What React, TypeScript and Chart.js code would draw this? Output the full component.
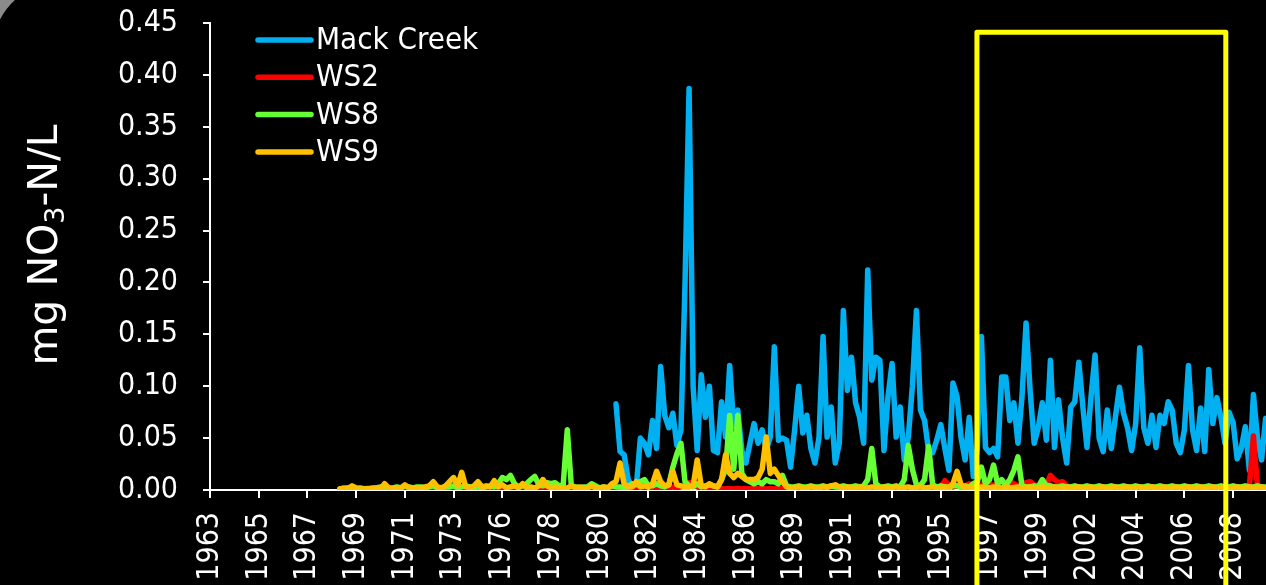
import React, { useEffect, useRef } from 'react';
import { Chart, registerables } from 'chart.js';

Chart.register(...registerables);

// ---------- data ----------
const TICK_LABELS = ['1963', '1965', '1967', '1969', '1971', '1973', '1976', '1978', '1980', '1982', '1984',
  '1986', '1989', '1991', '1993', '1995', '1997', '1999', '2002', '2004', '2006', '2008'];
const SAMPLES_PER_TICK = 12;
const X_MAX = 260.1;
const Y_MAX = 0.45;
const Y_STEP = 0.05;

const SERIES_NAMES = ['Mack Creek', 'WS2', 'WS8', 'WS9'];
const SERIES_COLORS = ['#00B0F0', '#FF0000', '#66FF33', '#FFC000'];

const Y_TITLE_MAIN = 'mg NO';
const Y_TITLE_SUB = '3';
const Y_TITLE_END = '-N/L';

const MACK_CREEK_START = 100;
const MACK_CREEK = [
  0.083, 0.037, 0.034, 0.01, 0.003, 0.003, 0.05, 0.045, 0.034, 0.067,
  0.04, 0.119, 0.072, 0.06, 0.074, 0.043, 0.058, 0.199, 0.387, 0.1,
  0.038, 0.111, 0.07, 0.1, 0.038, 0.036, 0.085, 0.051, 0.12, 0.061,
  0.077, 0.038, 0.026, 0.045, 0.064, 0.045, 0.058, 0.038, 0.051, 0.138,
  0.048, 0.05, 0.048, 0.022, 0.058, 0.1, 0.055, 0.072, 0.04, 0.026,
  0.051, 0.148, 0.051, 0.08, 0.026, 0.045, 0.173, 0.096, 0.128, 0.084,
  0.07, 0.045, 0.212, 0.106, 0.128, 0.125, 0.038, 0.09, 0.122, 0.051,
  0.08, 0.029, 0.051, 0.1, 0.173, 0.077, 0.067, 0.038, 0.036, 0.048,
  0.063, 0.04, 0.019, 0.103, 0.09, 0.05, 0.029, 0.07, 0.013, 0.04,
  0.148, 0.041, 0.036, 0.04, 0.032, 0.109, 0.109, 0.067, 0.084, 0.045,
  0.09, 0.161, 0.096, 0.045, 0.06, 0.084, 0.048, 0.125, 0.041, 0.087,
  0.05, 0.026, 0.08, 0.085, 0.123, 0.08, 0.041, 0.09, 0.13, 0.05,
  0.037, 0.077, 0.04, 0.07, 0.099, 0.074, 0.06, 0.038, 0.064, 0.137,
  0.06, 0.045, 0.072, 0.041, 0.072, 0.064, 0.085, 0.077, 0.045, 0.036,
  0.058, 0.12, 0.058, 0.038, 0.079, 0.037, 0.116, 0.064, 0.089, 0.07,
  0.045, 0.075, 0.065, 0.03, 0.04, 0.061, 0.019, 0.092, 0.05, 0.029,
  0.069, 0.07,
];

const WS_START = 32;
const WS2 = [
  0.001, 0.001, 0.0015, 0.001, 0.001, 0.001, 0.0015, 0.001, 0.001, 0.001,
  0.001, 0.0015, 0.001, 0.001, 0.001, 0.0015, 0.001, 0.001, 0.001, 0.0015,
  0.001, 0.001, 0.0015, 0.001, 0.001, 0.001, 0.0015, 0.001, 0.001, 0.001,
  0.001, 0.0015, 0.001, 0.001, 0.001, 0.0015, 0.001, 0.001, 0.001, 0.0015,
  0.001, 0.001, 0.0015, 0.001, 0.001, 0.001, 0.0015, 0.001, 0.001, 0.001,
  0.001, 0.0015, 0.001, 0.001, 0.001, 0.0015, 0.001, 0.001, 0.001, 0.0015,
  0.001, 0.0015, 0.002, 0.001, 0.0015, 0.002, 0.001, 0.0015, 0.002, 0.0015,
  0.0015, 0.002, 0.0015, 0.002, 0.0015, 0.002, 0.004, 0.002, 0.0015, 0.002,
  0.002, 0.002, 0.003, 0.002, 0.003, 0.004, 0.007, 0.006, 0.003, 0.002,
  0.0015, 0.001, 0.0015, 0.001, 0.0015, 0.001, 0.0015, 0.001, 0.0015, 0.001,
  0.0015, 0.001, 0.0015, 0.001, 0.0015, 0.001, 0.0015, 0.001, 0.0015, 0.001,
  0.0015, 0.001, 0.0015, 0.001, 0.0015, 0.001, 0.0015, 0.001, 0.0015, 0.001,
  0.0015, 0.001, 0.0015, 0.001, 0.0015, 0.001, 0.0015, 0.001, 0.0015, 0.001,
  0.0015, 0.001, 0.0015, 0.001, 0.0015, 0.001, 0.0015, 0.001, 0.0015, 0.001,
  0.001, 0.001, 0.002, 0.001, 0.002, 0.002, 0.002, 0.003, 0.003, 0.009,
  0.005, 0.003, 0.004, 0.003, 0.004, 0.006, 0.003, 0.004, 0.005, 0.008,
  0.006, 0.004, 0.006, 0.009, 0.007, 0.008, 0.006, 0.004, 0.005, 0.007,
  0.008, 0.005, 0.004, 0.003, 0.005, 0.014, 0.01, 0.007, 0.008, 0.004,
  0.003, 0.002, 0.003, 0.002, 0.003, 0.002, 0.002, 0.003, 0.002, 0.002,
  0.003, 0.002, 0.002, 0.003, 0.002, 0.002, 0.003, 0.002, 0.002, 0.003,
  0.002, 0.003, 0.002, 0.002, 0.003, 0.002, 0.002, 0.003, 0.002, 0.002,
  0.003, 0.002, 0.002, 0.003, 0.002, 0.002, 0.003, 0.002, 0.002, 0.003,
  0.002, 0.002, 0.003, 0.002, 0.003, 0.052, 0.003, 0.002, 0.002, 0.002,
];

const WS8 = [
  0.001, 0.001, 0.002, 0.001, 0.001, 0.002, 0.001, 0.001, 0.002, 0.002,
  0.003, 0.002, 0.002, 0.002, 0.003, 0.002, 0.004, 0.003, 0.002, 0.003,
  0.003, 0.002, 0.003, 0.004, 0.002, 0.002, 0.003, 0.003, 0.004, 0.002,
  0.003, 0.004, 0.003, 0.002, 0.003, 0.002, 0.003, 0.004, 0.003, 0.006,
  0.012, 0.01, 0.014, 0.006, 0.003, 0.004, 0.006, 0.01, 0.013, 0.005,
  0.004, 0.007, 0.006, 0.007, 0.004, 0.005, 0.058, 0.004, 0.003, 0.002,
  0.003, 0.003, 0.006, 0.004, 0.002, 0.003, 0.002, 0.004, 0.003, 0.003,
  0.002, 0.003, 0.006, 0.005, 0.008, 0.01, 0.004, 0.004, 0.006, 0.004,
  0.003, 0.005, 0.022, 0.035, 0.045, 0.008, 0.004, 0.003, 0.006, 0.003,
  0.004, 0.005, 0.004, 0.003, 0.01, 0.02, 0.072, 0.02, 0.072, 0.016,
  0.01, 0.008, 0.006, 0.008, 0.006, 0.01, 0.008, 0.008, 0.006, 0.014,
  0.004, 0.003, 0.003, 0.004, 0.003, 0.003, 0.004, 0.003, 0.003, 0.004,
  0.003, 0.004, 0.003, 0.003, 0.004, 0.003, 0.003, 0.004, 0.003, 0.004,
  0.01, 0.04, 0.006, 0.003, 0.003, 0.004, 0.003, 0.004, 0.003, 0.01,
  0.043, 0.02, 0.005, 0.004, 0.01, 0.042, 0.005, 0.003, 0.004, 0.003,
  0.003, 0.004, 0.004, 0.003, 0.004, 0.003, 0.006, 0.008, 0.022, 0.006,
  0.01, 0.024, 0.006, 0.01, 0.004, 0.01, 0.019, 0.032, 0.004, 0.003,
  0.003, 0.004, 0.003, 0.01, 0.004, 0.004, 0.003, 0.003, 0.004, 0.003,
  0.003, 0.004, 0.003, 0.003, 0.004, 0.003, 0.003, 0.004, 0.003, 0.003,
  0.004, 0.003, 0.003, 0.004, 0.003, 0.003, 0.004, 0.003, 0.003, 0.004,
  0.003, 0.003, 0.004, 0.003, 0.003, 0.004, 0.003, 0.003, 0.004, 0.003,
  0.003, 0.004, 0.003, 0.003, 0.004, 0.003, 0.003, 0.004, 0.003, 0.003,
  0.004, 0.003, 0.003, 0.004, 0.003, 0.003, 0.004, 0.003, 0.003, 0.003,
];

const WS9 = [
  0.001, 0.002, 0.0015, 0.004, 0.002, 0.001, 0.001, 0.0015, 0.001, 0.002,
  0.001, 0.006, 0.002, 0.001, 0.002, 0.002, 0.005, 0.002, 0.001, 0.002,
  0.002, 0.003, 0.004, 0.008, 0.003, 0.002, 0.004, 0.008, 0.012, 0.004,
  0.017, 0.003, 0.002, 0.004, 0.008, 0.003, 0.004, 0.003, 0.009, 0.003,
  0.005, 0.002, 0.003, 0.004, 0.002, 0.006, 0.002, 0.003, 0.002, 0.004,
  0.01, 0.004, 0.002, 0.003, 0.002, 0.002, 0.002, 0.004, 0.002, 0.003,
  0.002, 0.002, 0.004, 0.002, 0.002, 0.003, 0.002, 0.006, 0.008, 0.026,
  0.006, 0.003, 0.003, 0.008, 0.003, 0.004, 0.003, 0.006, 0.018, 0.008,
  0.004, 0.005, 0.018, 0.005, 0.004, 0.003, 0.003, 0.004, 0.029, 0.004,
  0.003, 0.006, 0.004, 0.003, 0.01, 0.034, 0.016, 0.012, 0.016, 0.013,
  0.01, 0.01, 0.01, 0.012, 0.02, 0.051, 0.016, 0.02, 0.014, 0.008,
  0.003, 0.002, 0.0025, 0.003, 0.002, 0.002, 0.003, 0.0025, 0.002, 0.003,
  0.0025, 0.004, 0.005, 0.003, 0.002, 0.003, 0.0025, 0.002, 0.003, 0.0025,
  0.002, 0.003, 0.0025, 0.002, 0.003, 0.002, 0.0025, 0.003, 0.002, 0.0025,
  0.003, 0.002, 0.0025, 0.003, 0.002, 0.0025, 0.003, 0.002, 0.0025, 0.003,
  0.002, 0.006, 0.018, 0.005, 0.002, 0.003, 0.0025, 0.002, 0.003, 0.0025,
  0.002, 0.003, 0.0025, 0.002, 0.003, 0.002, 0.0025, 0.003, 0.002, 0.0025,
  0.003, 0.002, 0.0025, 0.003, 0.002, 0.0025, 0.003, 0.002, 0.0025, 0.003,
  0.002, 0.0025, 0.003, 0.002, 0.0025, 0.003, 0.002, 0.0025, 0.003, 0.002,
  0.0025, 0.003, 0.002, 0.0025, 0.003, 0.002, 0.0025, 0.003, 0.002, 0.0025,
  0.003, 0.002, 0.0025, 0.003, 0.002, 0.0025, 0.003, 0.002, 0.0025, 0.003,
  0.002, 0.0025, 0.003, 0.002, 0.0025, 0.003, 0.002, 0.0025, 0.003, 0.002,
  0.0025, 0.003, 0.002, 0.0025, 0.003, 0.002, 0.0025, 0.003, 0.002, 0.0025,
];

// highlighted period (in sample index units along the x axis)
const HIGHLIGHT_FROM = 188.9;
const HIGHLIGHT_TO = 250.2;
const HIGHLIGHT_TOP = 0.441;

const FONT = "'DejaVu Sans Condensed', 'DejaVu Sans', sans-serif";
const TITLE_FONT = "'DejaVu Sans', sans-serif";

function toPoints(start: number, values: number[]) {
  return values.map((v, k) => ({ x: start + k, y: v }));
}

const backgroundPlugin = {
  id: 'bgCorner',
  beforeDraw(chart: any) {
    const { ctx, width, height } = chart;
    ctx.save();
    ctx.fillStyle = '#000';
    ctx.fillRect(0, 0, width, height);
    const cx = 60, cy = 50, r = 67.3;
    const a1 = Math.atan2(0 - cy, 15 - cx);
    const a2 = Math.atan2(19.6 - cy, 0 - cx);
    ctx.beginPath();
    ctx.moveTo(0, 0);
    ctx.lineTo(15, 0);
    ctx.arc(cx, cy, r, a1, a2, true);
    ctx.lineTo(0, 0);
    ctx.closePath();
    ctx.fillStyle = '#8a8a8a';
    ctx.fill();
    ctx.restore();
  },
};

const overlayPlugin = {
  id: 'overlay',
  afterDraw(chart: any) {
    const { ctx, chartArea, scales } = chart;
    const xs = scales.x, ys = scales.y;
    ctx.save();
    const l = xs.getPixelForValue(HIGHLIGHT_FROM);
    const r = xs.getPixelForValue(HIGHLIGHT_TO);
    const t = ys.getPixelForValue(HIGHLIGHT_TOP);
    ctx.strokeStyle = '#FFFF00';
    ctx.lineWidth = 5;
    ctx.lineJoin = 'round';
    ctx.beginPath();
    ctx.moveTo(l, chart.height + 10);
    ctx.lineTo(l, t);
    ctx.lineTo(r, t);
    ctx.lineTo(r, chart.height + 10);
    ctx.stroke();

    ctx.font = `31px ${FONT}`;
    ctx.textBaseline = 'middle';
    ctx.textAlign = 'left';
    ctx.lineCap = 'round';
    ctx.lineWidth = 5.5;
    const x0 = chartArea.left + 48;
    const x1 = chartArea.left + 101;
    SERIES_NAMES.forEach((name, i) => {
      const y = 40 + i * 37.3;
      ctx.strokeStyle = SERIES_COLORS[i];
      ctx.beginPath();
      ctx.moveTo(x0, y);
      ctx.lineTo(x1, y);
      ctx.stroke();
      ctx.fillStyle = '#fff';
      ctx.fillText(name, x1 + 5, y + 1);
    });

    ctx.translate(46, 245);
    ctx.rotate(-Math.PI / 2);
    ctx.fillStyle = '#fff';
    ctx.textBaseline = 'middle';
    const big = `41px ${TITLE_FONT}`;
    const small = `27px ${TITLE_FONT}`;
    ctx.font = big;
    const w1 = ctx.measureText(Y_TITLE_MAIN).width;
    const w3 = ctx.measureText(Y_TITLE_END).width;
    ctx.font = small;
    const w2 = ctx.measureText(Y_TITLE_SUB).width;
    let x = -(w1 + w2 + w3) / 2;
    ctx.font = big;
    ctx.fillText(Y_TITLE_MAIN, x, 0);
    x += w1;
    ctx.font = small;
    ctx.fillText(Y_TITLE_SUB, x, 11);
    x += w2;
    ctx.font = big;
    ctx.fillText(Y_TITLE_END, x, 0);
    ctx.restore();
  },
};

export default function App() {
  const ref = useRef<HTMLCanvasElement | null>(null);
  useEffect(() => {
    if (!ref.current) return;
    const series = [
      toPoints(MACK_CREEK_START, MACK_CREEK),
      toPoints(WS_START, WS2),
      toPoints(WS_START, WS8),
      toPoints(WS_START, WS9),
    ];
    const chart = new Chart(ref.current, {
      type: 'line',
      data: {
        datasets: series.map((d, i) => ({
          label: SERIES_NAMES[i],
          data: d,
          borderColor: SERIES_COLORS[i],
          backgroundColor: SERIES_COLORS[i],
          borderWidth: 5.5,
          pointRadius: 0,
          tension: 0,
          borderJoinStyle: 'round',
          borderCapStyle: 'round',
          fill: false,
          order: 4 - i,
        })),
      },
      options: {
        animation: false,
        responsive: false,
        maintainAspectRatio: false,
        layout: { padding: { top: 23, left: 0, right: 0, bottom: 0 } },
        plugins: {
          legend: { display: false },
          title: { display: false },
          tooltip: { enabled: false },
        },
        scales: {
          x: {
            type: 'linear',
            min: 0,
            max: X_MAX,
            afterFit: (s: any) => { s.height = 95; s.paddingLeft = 0; s.paddingRight = 0; },
            ticks: {
              stepSize: SAMPLES_PER_TICK,
              autoSkip: false,
              includeBounds: false,
              minRotation: 90,
              maxRotation: 90,
              padding: 14,
              color: '#fff',
              font: { family: FONT, size: 30 },
              callback: (v: any) => {
                const k = Math.round(Number(v) / SAMPLES_PER_TICK);
                return TICK_LABELS[k] ?? '';
              },
            },
            grid: { display: true, drawOnChartArea: false, drawTicks: true, tickLength: 8, color: '#fff', lineWidth: 2 },
            border: { display: true, color: '#fff', width: 2 },
          },
          y: {
            min: 0,
            max: Y_MAX,
            afterFit: (s: any) => { s.width = 210; s.paddingTop = 0; s.paddingBottom = 0; },
            ticks: {
              stepSize: Y_STEP,
              padding: 25,
              color: '#fff',
              font: { family: FONT, size: 30 },
              callback: (v: any) => Number(v).toFixed(2),
            },
            grid: { display: true, drawOnChartArea: false, drawTicks: true, tickLength: 7, color: '#fff', lineWidth: 2 },
            border: { display: true, color: '#fff', width: 2 },
          },
        },
      },
      plugins: [backgroundPlugin, overlayPlugin],
    } as any);
    return () => chart.destroy();
  }, []);

  return (
    <div style={{ position: 'fixed', left: 0, top: 0, width: 1266, height: 585, background: '#000', overflow: 'hidden' }}>
      <canvas ref={ref} width={1266} height={585} style={{ display: 'block' }} />
    </div>
  );
}
